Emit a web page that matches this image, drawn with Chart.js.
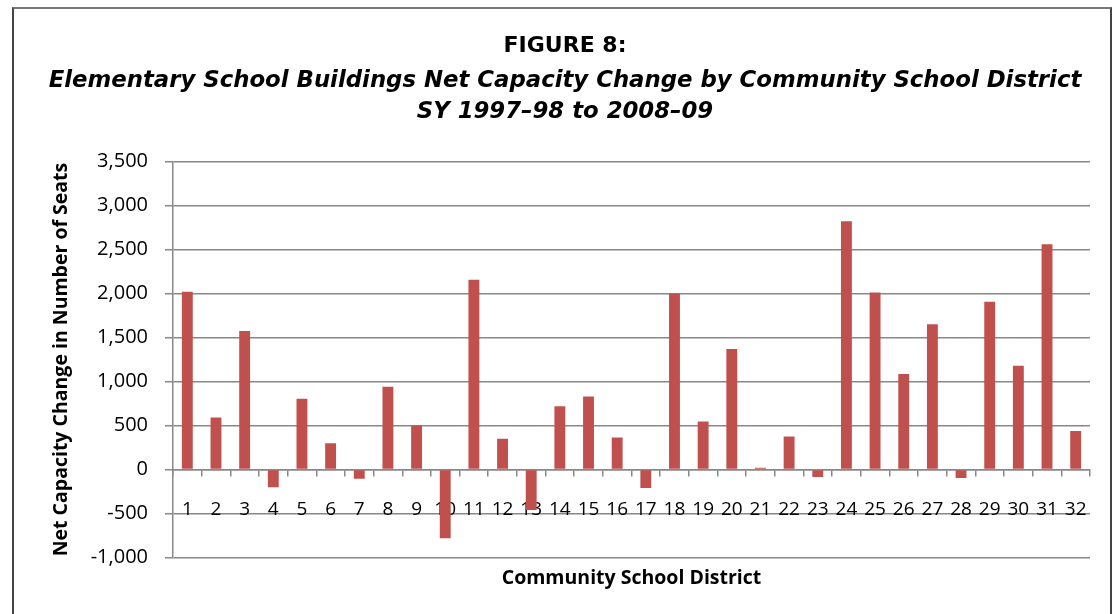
<!DOCTYPE html>
<html>
<head>
<meta charset="utf-8">
<script src="https://cdn.jsdelivr.net/npm/chart.js@4.4.1/dist/chart.umd.min.js"></script>
<style>
  html, body { margin: 0; padding: 0; background: #fff; }
  #wrap { position: relative; width: 1117px; height: 614px; overflow: hidden; }
  #frame { position: absolute; left: 12px; top: 7px; width: 1100px; height: 640px;
           border-left: 2px solid #444; border-top: 2px solid #777; border-right: 2px solid #444; box-sizing: border-box; }
  canvas { position: absolute; left: 0; top: 0; }
</style>
</head>
<body>
<div id="wrap">
  <div id="frame"></div>
  <canvas id="c" width="1117" height="614"></canvas>
</div>
<script>
const titleText = "FIGURE 8:";
const subtitleLines = [
  "Elementary School Buildings Net Capacity Change by Community School District",
  "SY 1997\u201398 to 2008\u201309"
];
const xAxisTitle = "Community School District";
const yAxisTitle = "Net Capacity Change in Number of Seats";

const districts = ["1","2","3","4","5","6","7","8","9","10","11","12","13","14","15","16",
                   "17","18","19","20","21","22","23","24","25","26","27","28","29","30","31","32"];
const netCapacityChange = [2020, 590, 1575, -200, 805, 300, -105, 940, 500, -780, 2155, 350,
                           -460, 720, 830, 365, -210, 2000, 545, 1370, 20, 375, -85, 2820,
                           2010, 1085, 1650, -95, 1905, 1180, 2560, 437];
const yTickMin = -1000;
const yTickMax = 3500;
const yTickStep = 500;

const barColor = "#C0504D";
const gridColor = "#888888";

new Chart(document.getElementById('c'), {
  type: 'bar',
  data: {
    labels: districts,
    datasets: [{
      data: netCapacityChange,
      backgroundColor: barColor,
      borderWidth: 0,
      barPercentage: 0.38,
      categoryPercentage: 1.0,
      xAxisID: 'x',
      yAxisID: 'y'
    }]
  },
  options: {
    responsive: false,
    animation: false,
    devicePixelRatio: 1,
    layout: { padding: { left: 40, right: 27, top: 0, bottom: 0 } },
    plugins: {
      legend: { display: false },
      tooltip: { enabled: false },
      title: {
        display: true,
        text: titleText,
        color: '#000',
        font: { family: 'DejaVu Sans', size: 22, weight: 'bold', lineHeight: 1.2 },
        padding: { top: 33, bottom: 0 }
      },
      subtitle: {
        display: true,
        text: subtitleLines,
        color: '#000',
        font: { family: 'DejaVu Sans', size: 22.8, weight: 'bold', style: 'italic', lineHeight: 1.36 },
        padding: { top: 6, bottom: 34 }
      }
    },
    scales: {
      x: {
        type: 'category',
        position: { y: 0 },
        offset: true,
        grid: { display: true, drawOnChartArea: false, drawTicks: true, tickLength: 6, offset: true,
                color: gridColor, lineWidth: 1.5 },
        border: { display: true, color: gridColor, width: 1.5 },
        ticks: { color: '#000', font: { family: 'Open Sans', size: 19 }, padding: 23,
                 maxRotation: 0, autoSkip: false }
      },
      xTitle: {
        type: 'category',
        labels: districts,
        position: 'bottom',
        offset: true,
        grid: { display: false },
        border: { display: false },
        ticks: { display: false },
        title: { display: true, text: xAxisTitle, color: '#000',
                 font: { family: 'Open Sans', size: 19.5, weight: 'bold', lineHeight: 1.2 },
                 padding: { top: 1, bottom: 24 } }
      },
      y: {
        min: yTickMin,
        max: yTickMax,
        ticks: {
          stepSize: yTickStep,
          color: '#000',
          font: { family: 'Open Sans', size: 20 },
          padding: 17,
          callback: (v) => Number(v).toLocaleString('en-US')
        },
        grid: { color: gridColor, lineWidth: 1.5, drawTicks: true, tickLength: 8 },
        border: { display: true, color: gridColor, width: 1.5 },
        title: { display: true, text: yAxisTitle, color: '#000',
                 font: { family: 'Open Sans', size: 19.5, weight: 'bold', lineHeight: 1.2 },
                 padding: { top: 10, bottom: 0 } },
        afterFit(scale) { scale.width = 133; }
      }
    }
  }
});
</script>
</body>
</html>
